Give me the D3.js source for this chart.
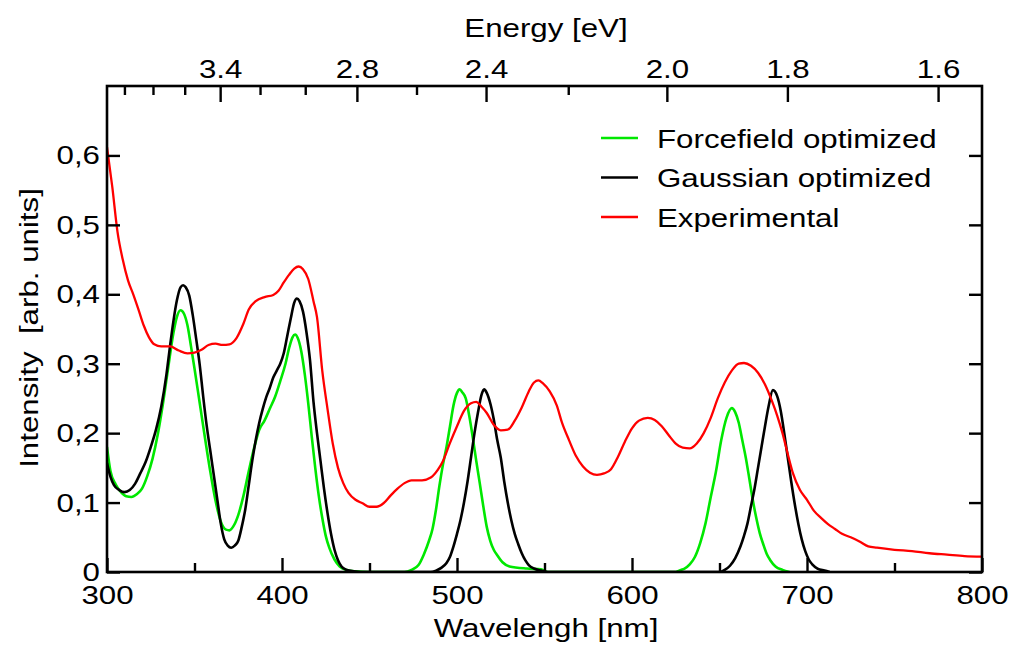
<!DOCTYPE html>
<html>
<head>
<meta charset="utf-8">
<script src="https://cdn.jsdelivr.net/npm/d3@7"></script>
<style>
  html, body { margin: 0; padding: 0; background: #fff; }
  svg { display: block; }
  text { font-family: "Liberation Sans", Arial, Helvetica, sans-serif; fill: #000; }
</style>
</head>
<body>
<svg id="chart" width="1016" height="648"></svg>
<script>
// Wavelength ticks (bottom axis, nm)
const wavelengthTicks = [300, 400, 500, 600, 700, 800];
const wavelengthMinorTicks = [350, 450, 550, 650, 750];
// Energy ticks (top axis, eV)
const energyTicks = [3.4, 2.8, 2.4, 2.0, 1.8, 1.6];
const energyMinorTicks = [4.0, 3.8, 3.6, 3.2, 3.0, 2.6, 2.2];
// Intensity ticks
const intensityTicks = [0, 0.1, 0.2, 0.3, 0.4, 0.5, 0.6];

const seriesNames = ["Forcefield optimized", "Gaussian optimized", "Experimental"];
const seriesColors = ["#00e800", "#000000", "#ff0000"];

// Forcefield optimized spectrum
const forcefieldWavelength = [300,302,305,308,311,314,317,320,323,326,329,332,335,338,340,342,344,346,348,350,353,356,359,362,365,368,370,372,375,378,381,384,387,390,393,396,399,402,404,406,407.5,409,411,413,415,417,419,421,423,425,427,430,433,437,442,450,470,474,478,481,484,486,488,490,492,494,496,498,500,501.5,503,505,507,509,511,513,515,517,519,521,523,526,530,540,548,552,625,628,630,633,636,639,642,645,648,651,654,657,659,661,663,665,667,669,671,673,675,677,679,682,686,690];
const forcefieldIntensity = [0.18,0.145,0.126,0.115,0.109,0.108,0.112,0.12,0.138,0.163,0.198,0.243,0.295,0.345,0.368,0.377,0.372,0.355,0.325,0.293,0.243,0.193,0.145,0.103,0.073,0.061,0.06,0.065,0.082,0.11,0.145,0.178,0.205,0.218,0.235,0.252,0.275,0.3,0.322,0.338,0.342,0.337,0.318,0.285,0.243,0.195,0.15,0.11,0.078,0.052,0.035,0.018,0.008,0.003,0.001,0,0,0.003,0.01,0.025,0.045,0.062,0.09,0.125,0.155,0.18,0.21,0.24,0.258,0.263,0.259,0.25,0.225,0.194,0.16,0.128,0.095,0.065,0.045,0.032,0.024,0.014,0.008,0.005,0.004,0,0,0.003,0.005,0.011,0.022,0.042,0.07,0.108,0.145,0.19,0.222,0.236,0.23,0.215,0.19,0.165,0.135,0.104,0.078,0.056,0.04,0.026,0.017,0.008,0.003,0];

// Gaussian optimized spectrum
const gaussianWavelength = [300,302,304,307,310,313,316,319,322,325,328,331,334,336,338,340,342,343.5,345,347,349,351,353,355,357,359,361,363,365,367,369,371,373,375,377,379,381,383,385,387,389,391,393,395,397,399,401,403,405,407,408.5,410,412,414,416,418,420,422,424,426,428,430,432,434,437,441,445,485,488,491,494,496,498,500,502,504,506,508,510,512,514,515.5,517,519,521,523,525,527,529,531,533,535,537,539,541,544,548,552,650,653,656,659,662,664,666,668,670,672,674,676,678,680.5,683,685,687,689,691,693,695,697,699,701,703,706,710,713];
const gaussianIntensity = [0.157,0.137,0.125,0.118,0.115,0.118,0.127,0.142,0.158,0.18,0.205,0.238,0.285,0.325,0.362,0.392,0.41,0.413,0.41,0.398,0.37,0.335,0.298,0.252,0.21,0.175,0.14,0.105,0.07,0.047,0.038,0.035,0.038,0.045,0.065,0.09,0.125,0.16,0.19,0.215,0.235,0.252,0.265,0.28,0.29,0.3,0.315,0.34,0.365,0.388,0.394,0.39,0.375,0.345,0.305,0.245,0.2,0.16,0.12,0.085,0.055,0.032,0.017,0.008,0.003,0.001,0,0,0.002,0.006,0.013,0.022,0.037,0.055,0.075,0.1,0.13,0.165,0.2,0.23,0.255,0.263,0.258,0.243,0.22,0.19,0.165,0.13,0.1,0.075,0.055,0.04,0.027,0.017,0.01,0.005,0.002,0,0,0.003,0.009,0.02,0.037,0.052,0.07,0.095,0.12,0.15,0.18,0.21,0.238,0.262,0.253,0.232,0.2,0.165,0.13,0.098,0.07,0.047,0.03,0.018,0.011,0.005,0.002,0];

// Experimental spectrum
const experimentalWavelength = [300,303,306,309,312,315,318,321,324,327,331,336,341,346,350,354,358,362,366,370,374,378,381,385,390,395,398,401,404,407,409.5,412,415,418,420,423,426,429,432,435,438,442,446,450,454,458,462,466,470,474,480,485,489,492,496,500,504,508,511,514,517,521,525,529,533,537,541,544,546.5,549,553,557,560,564,568,572,576,580,584,588,592,596,600,604,609,613,617,621,625,629,633,637,641,645,649,653,657,661,664,668,672,676,680,683,686,689,692,696,700,704,708,712,716,720,725,730,735,740,750,760,770,780,790,800];
const experimentalIntensity = [0.612,0.555,0.49,0.45,0.42,0.4,0.378,0.355,0.338,0.328,0.325,0.325,0.319,0.315,0.316,0.32,0.327,0.329,0.327,0.328,0.337,0.358,0.378,0.39,0.396,0.399,0.405,0.417,0.428,0.437,0.44,0.436,0.422,0.39,0.367,0.29,0.235,0.185,0.15,0.128,0.114,0.104,0.099,0.094,0.094,0.099,0.11,0.12,0.128,0.132,0.132,0.136,0.147,0.16,0.186,0.21,0.232,0.243,0.245,0.238,0.229,0.212,0.204,0.205,0.218,0.237,0.26,0.273,0.276,0.272,0.26,0.24,0.215,0.19,0.167,0.152,0.143,0.14,0.142,0.148,0.166,0.188,0.207,0.218,0.222,0.219,0.21,0.197,0.185,0.179,0.178,0.185,0.2,0.222,0.25,0.273,0.29,0.3,0.301,0.297,0.287,0.27,0.246,0.225,0.2,0.17,0.142,0.118,0.104,0.088,0.078,0.069,0.062,0.055,0.05,0.044,0.037,0.035,0.032,0.03,0.027,0.025,0.023,0.022];

const series = [
  { name: seriesNames[0], color: seriesColors[0], x: forcefieldWavelength, y: forcefieldIntensity, width: 2.6 },
  { name: seriesNames[1], color: seriesColors[1], x: gaussianWavelength, y: gaussianIntensity, width: 2.6 },
  { name: seriesNames[2], color: seriesColors[2], x: experimentalWavelength, y: experimentalIntensity, width: 2.3 }
];

const HC = 1239.84; // eV·nm
const FONT = 26.5;
const STRETCH = 1.18;

const svg = d3.select("#chart");
const plot = { left: 107, right: 982, top: 86, bottom: 572 };

const x = d3.scaleLinear().domain([300, 800]).range([plot.left, plot.right]);
const y = d3.scaleLinear().domain([0, 0.7]).range([plot.bottom, plot.top]);

svg.append("defs").append("clipPath").attr("id", "plot-clip")
  .append("rect")
  .attr("x", plot.left).attr("y", plot.top)
  .attr("width", plot.right - plot.left).attr("height", plot.bottom - plot.top);

// Curves
const line = d3.line()
  .x(d => x(d[0]))
  .y(d => y(d[1]))
  .curve(d3.curveMonotoneX);

const curves = svg.append("g").attr("clip-path", "url(#plot-clip)");
series.forEach(s => {
  curves.append("path")
    .datum(s.x.map((v, i) => [v, s.y[i]]))
    .attr("fill", "none")
    .attr("stroke", s.color)
    .attr("stroke-width", s.width)
    .attr("stroke-linejoin", "round")
    .attr("d", line);
});

// Frame and axes
function styleAxis(g) {
  g.select(".domain").remove();
  g.selectAll("line").attr("stroke", "#000").attr("stroke-width", 2.4);
  g.selectAll("text")
    .attr("font-size", FONT)
    .attr("font-family", "'Liberation Sans', Arial, Helvetica, sans-serif")
    .attr("fill", "#000");
}

const fmtComma = d => d === 0 ? "0" : d3.format(".1f")(d).replace(".", ",");

// Bottom axis
svg.append("g")
  .attr("transform", `translate(0,${plot.bottom})`)
  .call(d3.axisBottom(x).tickValues(wavelengthMinorTicks).tickSize(-9).tickFormat(""))
  .call(styleAxis);
const bottomAxis = svg.append("g")
  .attr("transform", `translate(0,${plot.bottom})`)
  .call(d3.axisBottom(x).tickValues(wavelengthTicks).tickSize(-14).tickPadding(13).tickFormat(d3.format("d")))
  .call(styleAxis);
bottomAxis.selectAll("text").each(function () {
  const t = d3.select(this);
  t.attr("transform", `scale(${STRETCH},1)`);
});

// Top axis (energy)
svg.append("g")
  .attr("transform", `translate(0,${plot.top})`)
  .call(d3.axisTop(x).tickValues(energyMinorTicks.map(e => HC / e)).tickSize(-9).tickFormat(""))
  .call(styleAxis);
const topAxis = svg.append("g")
  .attr("transform", `translate(0,${plot.top})`)
  .call(d3.axisTop(x).tickValues(energyTicks.map(e => HC / e)).tickSize(-16).tickPadding(8)
    .tickFormat(l => (HC / l).toFixed(1)))
  .call(styleAxis);
topAxis.selectAll("text").attr("transform", `scale(${STRETCH},1)`);

// Left axis
const leftAxis = svg.append("g")
  .attr("transform", `translate(${plot.left},0)`)
  .call(d3.axisLeft(y).tickValues(intensityTicks).tickSize(-13).tickPadding(7).tickFormat(fmtComma))
  .call(styleAxis);
leftAxis.selectAll("text")
  .attr("x", -7 / STRETCH)
  .attr("transform", `scale(${STRETCH},1)`);

// Right axis (ticks only)
svg.append("g")
  .attr("transform", `translate(${plot.right},0)`)
  .call(d3.axisRight(y).tickValues(intensityTicks).tickSize(-13).tickFormat(""))
  .call(styleAxis);

svg.append("rect")
  .attr("x", plot.left).attr("y", plot.top)
  .attr("width", plot.right - plot.left).attr("height", plot.bottom - plot.top)
  .attr("fill", "none").attr("stroke", "#000").attr("stroke-width", 2.6);

// Axis titles
function label(txt, tx, ty, rot) {
  svg.append("text")
    .attr("transform", `translate(${tx},${ty})${rot ? " rotate(" + rot + ")" : ""} scale(${STRETCH},1)`)
    .attr("text-anchor", "middle")
    .attr("font-size", FONT)
    .style("white-space", "pre")
    .text(txt);
}
label("Energy [eV]", 546, 37);
label("Wavelengh [nm]", 546, 637);
label("Intensity  [arb. units]", 38, 328, -90);

// Legend
const legend = svg.append("g");
series.forEach((s, i) => {
  const ly = 138 + i * 39.5;
  legend.append("line")
    .attr("x1", 601).attr("x2", 638)
    .attr("y1", ly).attr("y2", ly)
    .attr("stroke", s.color).attr("stroke-width", 2.4);
  legend.append("text")
    .attr("transform", `translate(657,${ly + 9.5}) scale(${STRETCH},1)`)
    .attr("font-size", FONT)
    .text(s.name);
});
</script>
</body>
</html>
